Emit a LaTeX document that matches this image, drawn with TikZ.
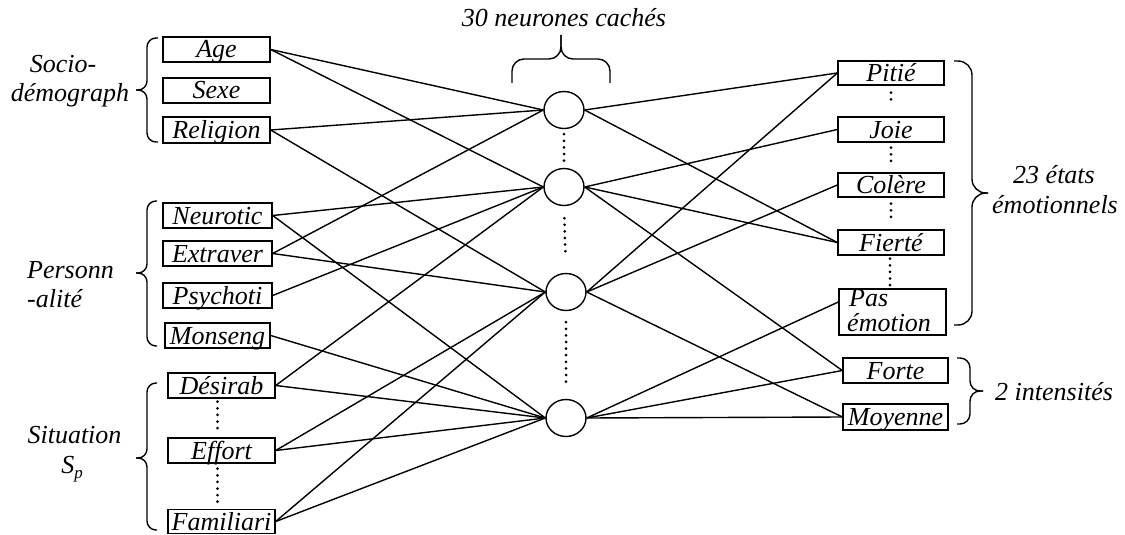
\documentclass[tikz,border=0pt]{standalone}
\usepackage{fontspec}
\setmainfont{Liberation Serif}
\usetikzlibrary{shapes.geometric}
\newcommand{\labfont}{\fontsize{26}{29}\selectfont\itshape}
\tikzset{
  box/.style={draw, line width=1.4pt, inner sep=0pt, minimum width=107pt, minimum height=25pt,
              text height=17pt, text depth=0pt, font=\labfont},
  lbl/.style={inner sep=0pt, font=\labfont},
  neuron/.style={ellipse, draw, line width=1.4pt, minimum width=40pt, minimum height=37pt, inner sep=0pt},
  conn/.style={line width=1.4pt},
  mybrace/.style={line width=1.4pt, rounded corners=#1},
  mydots/.style={line width=3pt, line cap=round, dash pattern=on 0pt off 6.6pt}
}
\begin{document}
\begin{tikzpicture}[x=1pt,y=-1pt]
\useasboundingbox (0,0) rectangle (1125,535);

% left input boxes
\node[box] (age) at (216.5,49.5) {\makebox[0pt]{Age}};
\node[box] (sexe) at (216.5,90.5) {\makebox[0pt]{Sexe}};
\node[box, minimum height=26pt] (religion) at (216.5,130) {\makebox[0pt]{Religion}};
\node[box, minimum width=109pt] (neurotic) at (217.5,215.5) {\makebox[0pt]{Neurotic}};
\node[box, minimum width=109pt] (extraver) at (217.5,253.5) {\makebox[0pt]{Extraver}};
\node[box, minimum width=109pt] (psychoti) at (217.5,295.5) {\makebox[0pt]{Psychoti}};
\node[box, minimum width=105pt] (monseng) at (217.5,335.5) {\makebox[0pt]{Monseng}};
\node[box] (desirab) at (221.5,385.5) {\makebox[0pt]{Désirab}};
\node[box] (effort) at (221.5,450.5) {\makebox[0pt]{Effort}};
\node[box, minimum height=24pt] (familiari) at (221.5,521.5) {\makebox[0pt]{Familiari}};

% hidden neurons
\node[neuron] (c1) at (564,110) {};
\node[neuron] (c2) at (564,187) {};
\node[neuron] (c3) at (566,292) {};
\node[neuron] (c4) at (566,418) {};

% output boxes
\node[box, minimum width=106pt, minimum height=24pt] (pitie) at (891,73) {\makebox[0pt]{Pitié}};
\node[box, minimum width=106pt] (joie) at (891,129.5) {\makebox[0pt]{Joie}};
\node[box, minimum width=106pt, minimum height=24pt] (colere) at (891,185) {\makebox[0pt]{Colère}};
\node[box, minimum width=106pt] (fierte) at (891,242.5) {\makebox[0pt]{Fierté}};
\node[box, minimum width=107pt, minimum height=46pt] (pas) at (892.5,312) {};
\node[lbl, anchor=base west] (pastxt1) at (849,306) {Pas};
\node[lbl, anchor=base west] (pastxt2) at (847,331) {émotion};
\node[box, minimum width=105pt] (forte) at (895.5,370.5) {\makebox[0pt]{Forte}};
\node[box, minimum width=105pt, minimum height=26pt] (moyenne) at (895.5,417) {\makebox[0pt]{Moyenne}};

% connections input -> hidden
\draw[conn] (age.east) -- (c1.west);
\draw[conn] (age.east) -- (c2.west);
\draw[conn] (religion.east) -- (c1.west);
\draw[conn] (religion.east) -- (c3.west);
\draw[conn] (neurotic.east) -- (c2.west);
\draw[conn] (neurotic.east) -- (c4.west);
\draw[conn] (extraver.east) -- (c1.west);
\draw[conn] (extraver.east) -- (c3.west);
\draw[conn] (psychoti.east) -- (c2.west);
\draw[conn] (monseng.east) -- (c4.west);
\draw[conn] (desirab.east) -- (c2.west);
\draw[conn] (desirab.east) -- (c4.west);
\draw[conn] (effort.east) -- (c3.west);
\draw[conn] (effort.east) -- (c4.west);
\draw[conn] (familiari.east) -- (c3.west);
\draw[conn] (familiari.east) -- (c4.west);

% connections hidden -> output
\draw[conn] (c1.east) -- (pitie.west);
\draw[conn] (c1.east) -- (fierte.west);
\draw[conn] (c2.east) -- (joie.west);
\draw[conn] (c2.east) -- (fierte.west);
\draw[conn] (c2.east) -- (forte.west);
\draw[conn] (c3.east) -- (pitie.west);
\draw[conn] (c3.east) -- (colere.west);
\draw[conn] (c3.east) -- (moyenne.west);
\draw[conn] (c4.east) -- ([yshift=10pt]pas.west);
\draw[conn] (c4.east) -- (forte.west);
\draw[conn] (c4.east) -- (moyenne.west);

% dotted continuations
\draw[mydots, shorten <=3pt, shorten >=3pt] ([xshift=-4pt]desirab.south) -- ([xshift=-4pt]effort.north);
\draw[mydots, shorten <=5pt, shorten >=7pt] ([xshift=-4pt]effort.south) -- ([xshift=-4pt]familiari.north);
\draw[mydots, shorten <=5pt, shorten >=5pt] (c1.south) -- (c2.north);
\draw[mydots, shorten <=12pt, shorten >=20pt] (c2.south) -- (c3.north);
\draw[mydots, shorten <=11pt, shorten >=16pt] (c3.south) -- (c4.north);
\draw[mydots, shorten <=7pt, shorten >=12pt] (pitie.south) -- (joie.north);
\draw[mydots, shorten <=5pt, shorten >=11pt] (joie.south) -- (colere.north);
\draw[mydots, shorten <=6pt, shorten >=12pt] (colere.south) -- (fierte.north);
\draw[mydots, shorten <=3pt, shorten >=1pt] ([xshift=-1pt]fierte.south) -- ([xshift=-2.5pt]pas.north);

% braces
\draw[mybrace=9pt] (158,38) -- (147,38) -- (147,90) -- (136,90);
\draw[mybrace=9pt] (136,90) -- (147,90) -- (147,142) -- (158,142);
\draw[mybrace=9pt] (157,201) -- (147,201) -- (147,273) -- (136,273);
\draw[mybrace=9pt] (136,273) -- (147,273) -- (147,346) -- (157,346);
\draw[mybrace=9pt] (157,383) -- (147,383) -- (147,458) -- (136,458);
\draw[mybrace=9pt] (136,458) -- (147,458) -- (147,530) -- (157,530);
\draw[mybrace=12pt] (512,83) -- (512,59) -- (561,59) -- (561,35);
\draw[mybrace=12pt] (561,35) -- (561,59) -- (610,59) -- (610,83);
\draw[mybrace=14pt] (954,61) -- (972,61) -- (972,193) -- (988,193);
\draw[mybrace=14pt] (988,193) -- (972,193) -- (972,325) -- (954,325);
\draw[mybrace=10pt] (957,358) -- (970,358) -- (970,391) -- (983,391);
\draw[mybrace=10pt] (983,391) -- (970,391) -- (970,424) -- (957,424);

% group labels
\node[lbl, anchor=base] (socio1) at (63,73) {Socio-};
\node[lbl, anchor=base] (socio2) at (70,102) {démograph};
\node[lbl, anchor=base west] (pers1) at (27,278) {Personn};
\node[lbl, anchor=base west] (pers2) at (27,307) {-alité};
\node[lbl, anchor=base] (sit1) at (74.5,443) {Situation};
\node[lbl, anchor=base] (sit2) at (72,473) {S\raisebox{-5pt}{\fontsize{17}{17}\selectfont p}};
\node[lbl, anchor=base] (hid) at (564,27) {30 neurones cachés};
\node[lbl, anchor=base] (emo1) at (1054,183) {23 états};
\node[lbl, anchor=base] (emo2) at (1055,213) {émotionnels};
\node[lbl, anchor=base west] (inten) at (995,400) {2 intensités};
\end{tikzpicture}
\end{document}
